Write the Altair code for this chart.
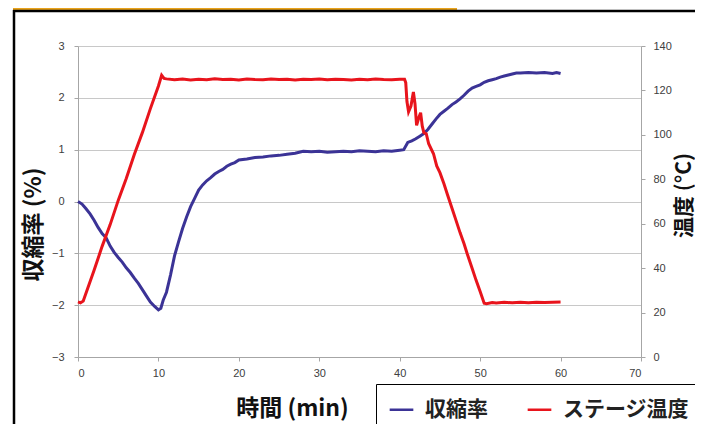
import altair as alt
import pandas as pd

S1 = "収縮率"
S2 = "ステージ温度"
BLUE = "#3b3396"
RED = "#e8141c"
JP = "Noto Sans CJK JP"

# shrinkage (%) vs time (min)
shr_t = [0, 0.5, 1, 1.5, 2, 2.5, 3, 3.5, 4, 4.5, 5, 5.5, 6, 6.5, 7, 7.5, 8, 8.5, 9, 9.5,
         10, 10.3, 10.6, 11, 11.5, 12, 12.5, 13, 13.5, 14, 14.5, 15, 15.5, 16, 16.5, 17,
         17.5, 18, 18.5, 19, 19.5, 20, 21, 22, 23, 24, 25, 26, 27, 28, 29, 30, 31, 32, 33,
         34, 35, 36, 37, 38, 39, 40, 40.5, 41, 41.5, 42, 42.5, 43, 43.5, 44, 44.5, 45,
         45.5, 46, 46.5, 47, 47.5, 48, 48.5, 49, 49.5, 50, 50.5, 51, 51.5, 52, 52.5, 53,
         53.5, 54, 54.5, 55, 56, 57, 58, 59, 59.5, 60]
shr_v = [0.00, -0.05, -0.14, -0.24, -0.36, -0.50, -0.62, -0.70, -0.86, -0.98, -1.08, -1.17,
         -1.28, -1.37, -1.48, -1.58, -1.70, -1.82, -1.94, -2.02,
         -2.09, -2.06, -1.90, -1.75, -1.42, -1.05, -0.78, -0.52, -0.30, -0.10, 0.06, 0.22,
         0.32, 0.40, 0.46, 0.53, 0.58, 0.62, 0.68, 0.72, 0.75, 0.80, 0.82, 0.85, 0.86, 0.88,
         0.89, 0.91, 0.93, 0.97, 0.96, 0.97, 0.95, 0.96, 0.97, 0.96, 0.98, 0.97, 0.96, 0.98,
         0.97, 0.99, 1.00, 1.14, 1.17, 1.21, 1.26, 1.31, 1.39, 1.49, 1.59, 1.68, 1.74, 1.80,
         1.87, 1.92, 1.98, 2.05, 2.13, 2.19, 2.22, 2.25, 2.30, 2.33, 2.35, 2.37, 2.40, 2.42,
         2.44, 2.46, 2.48, 2.48, 2.49, 2.48, 2.49, 2.47, 2.49, 2.47]

# stage temperature (°C) vs time (min)
temp_t = [0, 0.3, 0.65, 2, 3, 4, 5, 6, 7, 8, 9, 10, 10.4, 10.7, 11, 12, 13, 14, 15, 16, 17,
          18, 19, 20, 21, 22, 23, 24, 25, 26, 27, 28, 29, 30, 31, 32, 33, 34, 35, 36, 37, 38,
          39, 40, 40.6, 40.75, 40.9, 41.1, 41.4, 41.7, 41.9, 42.1, 42.4, 42.6, 42.8, 43.0,
          43.3, 43.6, 44.2, 44.6, 45.0, 45.5, 45.9, 46.5, 47, 47.5, 48, 48.4, 49, 49.5, 50,
          50.5, 50.8, 51.5, 52, 53, 54, 55, 56, 57, 58, 59, 60]
temp_v = [24.8, 24.4, 25.2, 39.0, 49.8, 59.6, 70.5, 80.4, 91.2, 101.0, 111.8, 122.0, 126.8,
          125.4, 125.2, 124.8, 125.1, 124.7, 125.0, 124.8, 125.2, 124.9, 125.0, 124.7, 125.1,
          124.9, 124.8, 125.1, 124.9, 125.0, 124.7, 125.0, 124.9, 125.1, 124.8, 125.0, 124.9,
          124.7, 125.0, 124.8, 125.1, 124.9, 124.8, 125.0, 125.0, 123.5, 115.0, 110.4, 113.0,
          119.3, 114.0, 104.3, 108.0, 110.0, 104.0, 101.0, 100.5, 96.0, 91.5, 86.0, 83.0, 78.0,
          73.5, 67.0, 61.5, 56.0, 51.0, 46.4, 40.0, 34.5, 29.5, 24.2, 24.0, 24.5, 24.3, 24.6,
          24.4, 24.7, 24.4, 24.6, 24.5, 24.7, 24.8]

x_ticks = [0, 10, 20, 30, 40, 50, 60, 70]
left_ticks = [-3, -2, -1, 0, 1, 2, 3]
right_ticks = [0, 20, 40, 60, 80, 100, 120, 140]

assert len(shr_t) == len(shr_v)
assert len(temp_t) == len(temp_v)

df1 = pd.DataFrame({"t": shr_t, "v": shr_v, "s": S1})
df2 = pd.DataFrame({"t": temp_t, "v": temp_v, "s": S2})
one = pd.DataFrame({"k": [0]})

color = alt.Color(
    "s:N",
    scale=alt.Scale(domain=[S1, S2], range=[BLUE, RED]),
    legend=alt.Legend(
        title=None, orient="none", legendX=298, legendY=338, direction="horizontal",
        strokeColor="#000000", padding=12, labelFont=JP, labelFontSize=21,
        labelFontWeight="bold", labelColor="#222222", symbolType="stroke",
        symbolSize=560, symbolStrokeWidth=2.5, labelOffset=10, columnPadding=34,
    ),
)

x = alt.X(
    "t:Q",
    scale=alt.Scale(domain=[0, 70], nice=False),
    axis=alt.Axis(values=x_ticks, title="時間 (min)", titleX=214, titleY=51,
                  titleBaseline="middle", titleAlign="center", labelPadding=6, grid=False),
)

line1 = alt.Chart(df1).mark_line(strokeWidth=3).encode(
    x=x,
    y=alt.Y("v:Q", scale=alt.Scale(domain=[-3, 3], nice=False),
            axis=alt.Axis(values=left_ticks, orient="left", grid=True, title="収縮率 (%)",
                          titleX=-45, titleY=178, titleAngle=270, titleBaseline="middle",
                          titleAlign="center", labelPadding=10)),
    color=color,
)

line2 = alt.Chart(df2).mark_line(strokeWidth=3).encode(
    x=x,
    y=alt.Y("v:Q", scale=alt.Scale(domain=[0, 140], nice=False),
            axis=alt.Axis(values=right_ticks, orient="right", grid=False, title="温度 (°C)",
                          titleX=43, titleY=149, titleAngle=270, titleBaseline="middle",
                          titleAlign="center", labelPadding=8, titleFontSize=21)),
    color=color,
)

# slide frame decorations
orange = alt.Chart(one).mark_rule(color="#e9a31c", strokeWidth=2).encode(
    x=alt.value(-65), x2=alt.value(379), y=alt.value(-37))
black_top = alt.Chart(one).mark_rule(color="#000000", strokeWidth=2.5).encode(
    x=alt.value(-65), x2=alt.value(640), y=alt.value(-35))
black_left = alt.Chart(one).mark_rule(color="#000000", strokeWidth=2.5).encode(
    x=alt.value(-64), y=alt.value(-36), y2=alt.value(420))

chart = alt.layer(line1, line2, orange, black_top, black_left).resolve_scale(
    y="independent"
).properties(
    width=563, height=311, autosize=alt.AutoSizeParams(type="none"),
    padding={"left": 70, "top": 38, "right": 54, "bottom": 67},
).configure_view(strokeWidth=0).configure_axis(
    labelFont="Liberation Sans", labelFontSize=11, labelColor="#404040",
    domainColor="#a6a6a6", tickColor="#a6a6a6", gridColor="#c8c8c8", tickSize=4,
    titleFont=JP, titleFontSize=23, titleFontWeight="bold", titleColor="#111111",
)

chart.save("out.html", embed_options={"renderer": "svg", "actions": False})
